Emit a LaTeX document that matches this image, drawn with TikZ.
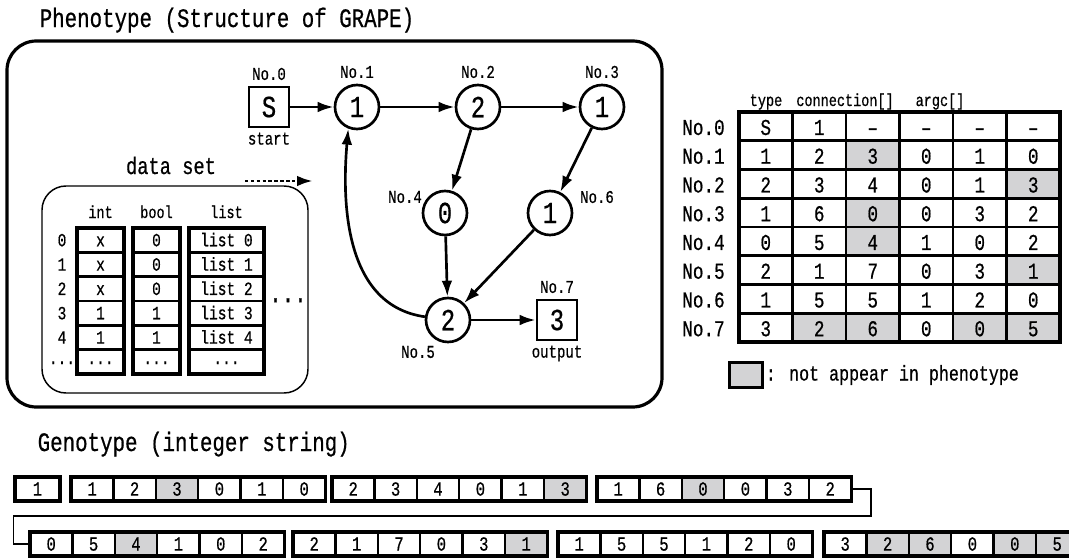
\documentclass[tikz,border=0pt]{standalone}
\usepackage{fontspec}
\setmainfont{Liberation Mono}[FakeStretch=0.78,FakeBold=0.6]
\usepackage{tikz}
\usetikzlibrary{arrows.meta,positioning,calc}
\definecolor{cellgray}{HTML}{D3D3D5}

\begin{document}
\begin{tikzpicture}[x=0.75pt,y=-0.75pt,
  fs/.style={font=\fontsize{#1}{#1}\selectfont},
  gnode/.style={circle,draw,line width=2pt,minimum size=33pt,inner sep=0pt,fs=23},
  gterm/.style={rectangle,draw,line width=2pt,minimum size=30pt,inner sep=0pt,fs=23},
  nolbl/.style={fs=13.5,inner sep=1pt},
  flow/.style={-{Latex[length=12pt,width=8pt]},line width=2pt},
  dscell/.style={line width=1.8pt},
  dsouter/.style={line width=2.4pt},
  dstxt/.style={fs=14,text height=9.2pt,text depth=0pt,inner sep=0pt},
  tbltxt/.style={fs=17,text height=11.2pt,text depth=0pt,inner sep=0pt},
  genocell/.style={draw,line width=1.9pt,minimum width=31.8pt,minimum height=18pt,inner sep=0pt,fs=15,text height=9.9pt,text depth=0pt},
  genogrp/.style={draw,line width=2.4pt,minimum width=190.8pt,minimum height=18pt,inner sep=0pt},
]
  \useasboundingbox (0,0) rectangle (1069,557);

  % phenotype frame
  \node[fs=20,anchor=base west] (pheno-title) at (35,27) {Phenotype (Structure of GRAPE)};
  \draw[line width=2.4pt,rounded corners=22pt] (7,41) rectangle (662,407);

  % graph
  \node[gterm] (n0) at (269,107) {S};
  \node[gnode] (n1) at (357,107) {1};
  \node[gnode] (n2) at (478,107) {2};
  \node[gnode] (n3) at (602,107) {1};
  \node[gnode] (n4) at (445,213) {0};
  \node[gnode] (n6) at (550,213) {1};
  \node[gnode] (n5) at (448,320) {2};
  \node[gterm] (n7) at (557,320) {3};
  \node[nolbl,above=3pt of n0] (n0-no) {No.0};
  \node[nolbl,below=2pt of n0] (n0-start) {start};
  \node[nolbl,above=3pt of n1] (n1-no) {No.1};
  \node[nolbl,above=3pt of n2] (n2-no) {No.2};
  \node[nolbl,above=3pt of n3] (n3-no) {No.3};
  \node[nolbl] (n4-no) at (405,197) {No.4};
  \node[nolbl] (n6-no) at (597,197) {No.6};
  \node[nolbl] (n5-no) at (418,352) {No.5};
  \node[nolbl,above=3pt of n7] (n7-no) {No.7};
  \node[nolbl,below=2pt of n7] (n7-out) {output};
  \draw[flow] (n0) -- (n1);
  \draw[flow] (n1) -- (n2);
  \draw[flow] (n2) -- (n3);
  \draw[flow] (n2) -- (n4);
  \draw[flow] (n3) -- (n6);
  \draw[flow] (n4) -- (n5);
  \draw[flow] (n6) -- (n5);
  \draw[flow] (n5) -- (n7);
  \draw[flow] (n5.172) to[out=172,in=-95] (n1.-112);

  % data set
  \node[fs=18,anchor=base] (ds-title) at (171,174) {data set};
  \draw[line width=1.1pt,rounded corners=18pt] (42,186) rectangle (308,393);
  \coordinate (ds-from) at (245,181);
  \coordinate (ds-to) at (313,181);
  \draw[line width=2.2pt,dash pattern=on 2.6pt off 1.8pt,-{Latex[length=12pt,width=8pt]}] (ds-from) -- (ds-to);
  \foreach \cx/\cw/\hd/\items [count=\k] in {77/47/int/{x,x,x,1,1,···},133/47/bool/{0,0,0,1,1,···},189/75/list/{list 0,list 1,list 2,list 3,list 4,···}} {
    \node[fs=13,anchor=base] (dsh\k) at (\cx+\cw/2,218) {\hd};
    \foreach \v [count=\r] in \items {
      \draw[dscell] (\cx,228+24.33*\r-24.33) rectangle ++(\cw,24.33);
      \node[dstxt] (ds\k-\r) at (\cx+\cw/2,228+24.33*\r-12.17) {\v};
    }
    \draw[dsouter] (\cx,228) rectangle ++(\cw,146);
  }
  \foreach \lb [count=\r] in {0,1,2,3,4,···}
    \node[dstxt] (dsi\r) at (62,228+24.33*\r-12.17) {\lb};
  \node[fs=20] (ds-more) at (288,303) {···};

  % node table
  \node[fs=13,anchor=base] (hd-type) at (766,106) {type};
  \node[fs=13,anchor=base] (hd-conn) at (845,106) {connection[]};
  \node[fs=13,anchor=base] (hd-argc) at (940,106) {argc[]};
  \foreach \i/\j in {1/3,2/6,3/3,4/3,5/6,7/2,7/3,7/5,7/6}
    \fill[cellgray] (739+53.5*\j-53.5,112+28.75*\i) rectangle ++(53.5,28.75);
  \foreach \j in {1,...,5}
    \draw[line width=2.1pt] (739+53.5*\j,112) -- (739+53.5*\j,342);
  \foreach \i in {1,...,7}
    \draw[line width=2.1pt] (739,112+28.75*\i) -- (1060,112+28.75*\i);
  \draw[line width=2.6pt] (739,112) rectangle (1060,342);
  \foreach \rw [count=\i from 0] in {{S,1,–,–,–,–},{1,2,3,0,1,0},{2,3,4,0,1,3},{1,6,0,0,3,2},{0,5,4,1,0,2},{2,1,7,0,3,1},{1,5,5,1,2,0},{3,2,6,0,0,5}} {
    \node[tbltxt,anchor=west] (row\i) at (682,127.5+28.75*\i) {No.\i};
    \foreach \v [count=\j] in \rw
      \node[tbltxt] (t\i-\j) at (739+53.5*\j-26.75,127.5+28.75*\i) {\v};
  }
  \node[draw,fill=cellgray,line width=2.4pt,minimum width=25pt,minimum height=19pt,inner sep=0pt] (legbox) at (746,375) {};
  \node[fs=16,inner sep=0pt,right=1pt of legbox] (legtxt) {: not appear in phenotype};

  % genotype
  \node[fs=20,anchor=base west] (geno-title) at (33,451) {Genotype (integer string)};
  \foreach \gx/\gy/\c in {71/477/3,332/477/6,597/477/3,30/532/3,293/532/6,824/532/2,824/532/3,824/532/5,824/532/6}
    \fill[cellgray] (\gx+42.4*\c-42.4,\gy) rectangle ++(42.4,24);
  \node[genocell,minimum width=33.75pt,line width=2.4pt] (g0) at (37.5,489) {1};
  \foreach \gx/\gy/\vals [count=\k] in {71/477/{1,2,3,0,1,0},332/477/{2,3,4,0,1,3},597/477/{1,6,0,0,3,2},30/532/{0,5,4,1,0,2},293/532/{2,1,7,0,3,1},558/532/{1,5,5,1,2,0},824/532/{3,2,6,0,0,5}} {
    \foreach \v [count=\j] in \vals
      \node[genocell] (g\k-\j) at (\gx+42.4*\j-21.2,\gy+12) {\v};
    \node[genogrp] (grp\k) at (\gx+127.2,\gy+12) {};
  }
  \draw[line width=0.9pt] (grp3.east) -- ++(18,0) -- ++(0,27) -| ($(grp4.west)+(-15,0)$) -- (grp4.west);
\end{tikzpicture}
\end{document}
